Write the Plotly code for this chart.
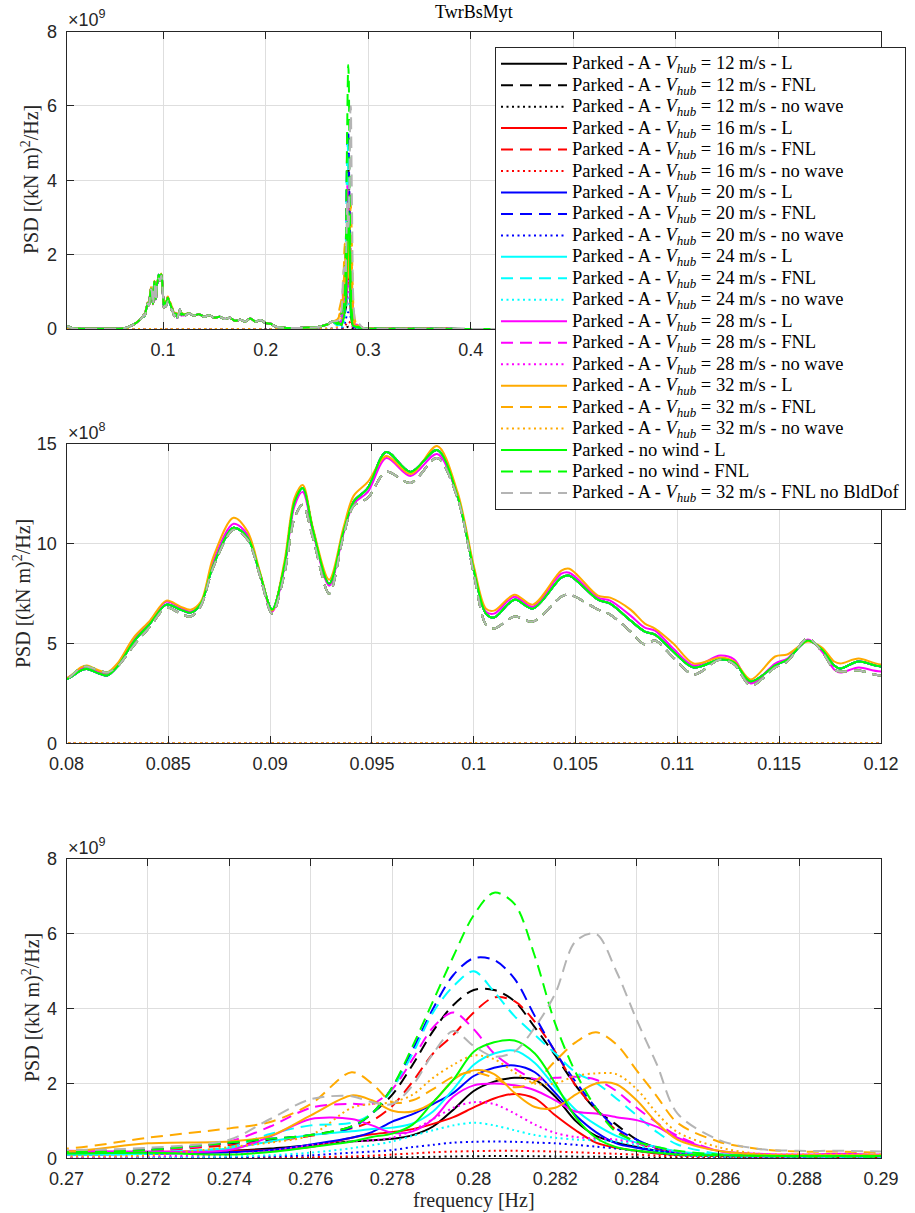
import plotly.graph_objects as go

W, H = 915, 1213

# ---------------- frequency grids [Hz] ----------------
freq_low = [0.0058, 0.008, 0.012, 0.02, 0.04, 0.055, 0.062, 0.068, 0.073, 0.077]
freq_mid = [0.0800, 0.0807, 0.0810, 0.0816, 0.0820, 0.0825, 0.0833, 0.0841, 0.0849, 0.0856,
            0.0861, 0.0866, 0.0872, 0.0882, 0.0889, 0.0895, 0.0901, 0.0907, 0.0912, 0.0916,
            0.0921, 0.0929, 0.0936, 0.0941, 0.0948, 0.0957, 0.0969, 0.0982, 0.0992, 0.1000,
            0.1006, 0.1010, 0.1020, 0.1029, 0.1043, 0.1047, 0.1061, 0.1067, 0.1077, 0.1084,
            0.1089, 0.1098, 0.1108, 0.1121, 0.1128, 0.1136, 0.1148, 0.1154, 0.1164, 0.1171,
            0.1177, 0.1180, 0.1189, 0.1200]
freq_high = [0.125, 0.13, 0.135, 0.14, 0.145, 0.15, 0.155, 0.16, 0.165, 0.17, 0.175, 0.18,
             0.185, 0.19, 0.195, 0.2, 0.205, 0.21, 0.22, 0.23, 0.24, 0.25, 0.255, 0.26, 0.265]
freq_peak = [0.270, 0.272, 0.274, 0.275, 0.276, 0.277, 0.2775, 0.278, 0.2785, 0.279, 0.2795,
             0.280, 0.2805, 0.281, 0.2815, 0.282, 0.2825, 0.283, 0.2835, 0.284, 0.2845, 0.285,
             0.286, 0.287, 0.288, 0.289, 0.290]
freq_tail = [0.295, 0.3, 0.35, 0.4, 0.5, 0.6, 0.7, 0.8]
freq_nowave = [0.0058, 0.05, 0.1, 0.15, 0.2, 0.25, 0.265]

# ---------------- wave-excited part (x1e9) ----------------
wave_low = [0.08, 0.06, 0.02, 0.01, 0.005, 0.008, 0.02, 0.08, 0.15, 0.24]
wave_high = [0.42, 0.36, 0.40, 0.33, 0.37, 0.30, 0.33, 0.27, 0.30, 0.22, 0.25, 0.20,
             0.28, 0.20, 0.24, 0.16, 0.14, 0.06, 0.03, 0.03, 0.04, 0.05, 0.08, 0.12, 0.20]
nowave_base = [0.004, 0.002, 0.002, 0.002, 0.002, 0.003, 0.004]
tail_all = [0.03, 0.015, 0.005, 0.003, 0.002, 0.001, 0.001, 0.001]

# ---------------- 0.08-0.12 Hz region (x1e8) ----------------
mid_L = [3.2, 3.65, 3.72, 3.5, 3.4, 3.85, 5.1, 6.0, 6.95, 6.7,
         6.55, 7.0, 8.9, 10.8, 10.3, 8.5, 6.7, 8.9, 12.1, 12.8,
         10.7, 8.0, 10.6, 12.1, 12.8, 14.6, 13.6, 14.7, 12.4, 8.7,
         6.5, 6.3, 7.2, 6.75, 8.3, 8.4, 7.2, 7.0, 6.15, 5.6,
         5.45, 4.6, 3.8, 4.2, 4.05, 3.1, 3.9, 4.2, 5.15, 4.7,
         3.9, 3.75, 4.1, 3.85]
mid_L28 = [3.25, 3.75, 3.85, 3.6, 3.5, 3.95, 5.25, 6.1, 7.1, 6.8,
           6.6, 7.0, 9.1, 11.0, 10.45, 8.5, 6.6, 8.8, 11.9, 12.6,
           10.6, 7.9, 10.5, 12.0, 12.6, 14.3, 13.4, 14.5, 12.4, 8.8,
           6.6, 6.5, 7.35, 6.85, 8.5, 8.55, 7.3, 7.15, 6.4, 5.8,
           5.65, 4.75, 3.9, 4.4, 4.2, 3.0, 4.0, 4.25, 5.2, 4.6,
           3.7, 3.55, 3.8, 3.6]
mid_L32 = [3.25, 3.8, 3.9, 3.65, 3.55, 4.0, 5.3, 6.15, 7.15, 6.85,
           6.7, 7.1, 9.3, 11.3, 10.6, 8.6, 6.65, 9.1, 12.3, 12.95,
           10.8, 8.2, 10.8, 12.4, 13.1, 14.4, 13.5, 14.9, 12.6, 8.9,
           6.75, 6.65, 7.45, 6.95, 8.65, 8.75, 7.4, 7.3, 6.7, 6.0,
           5.75, 5.0, 4.0, 4.3, 4.1, 3.2, 4.35, 4.45, 5.1, 4.8,
           4.1, 4.0, 4.25, 3.95]
mid_FNL = [3.2, 3.8, 3.85, 3.65, 3.55, 3.85, 4.9, 5.85, 6.8, 6.5,
           6.35, 6.9, 8.8, 10.7, 10.2, 8.4, 6.5, 8.5, 11.3, 11.95,
           10.3, 7.5, 10.4, 11.9, 12.3, 13.6, 13.05, 14.3, 12.3, 8.5,
           5.95, 5.75, 6.35, 6.1, 7.35, 7.45, 6.7, 6.45, 5.6, 4.95,
           5.15, 4.3, 3.45, 4.2, 3.95, 2.9, 3.8, 4.1, 5.25, 4.6,
           3.7, 3.6, 3.65, 3.4]

# ---------------- 0.27-0.29 Hz region, per case (x1e9) ----------------
peak_12_L = [0.12, 0.14, 0.2, 0.26, 0.35, 0.45, 0.48, 0.52, 0.62, 0.85, 1.3, 1.8, 2.05, 2.15,
             2.1, 1.65, 1.0, 0.6, 0.42, 0.3, 0.2, 0.13, 0.08, 0.06, 0.05, 0.05, 0.05]
peak_12_FNL = [0.17, 0.22, 0.4, 0.5, 0.62, 0.85, 1.2, 1.7, 2.5, 3.4, 4.1, 4.5, 4.5, 4.2,
               3.5, 2.75, 1.95, 1.3, 0.9, 0.5, 0.28, 0.15, 0.06, 0.04, 0.03, 0.03, 0.03]
peak_12_NW = [0.002, 0.002, 0.004, 0.006, 0.01, 0.015, 0.02, 0.025, 0.03, 0.04, 0.05, 0.055,
              0.06, 0.058, 0.055, 0.05, 0.045, 0.04, 0.035, 0.025, 0.02, 0.015, 0.008, 0.005,
              0.004, 0.004, 0.004]
peak_16_L = [0.13, 0.17, 0.2, 0.22, 0.3, 0.55, 0.64, 0.7, 0.78, 0.92, 1.1, 1.36, 1.6, 1.72,
             1.6, 1.15, 0.75, 0.42, 0.28, 0.2, 0.13, 0.09, 0.06, 0.05, 0.04, 0.04, 0.04]
peak_16_FNL = [0.12, 0.2, 0.35, 0.45, 0.6, 0.8, 1.0, 1.4, 2.05, 2.8, 3.3, 3.9, 4.3, 4.2,
               3.65, 2.85, 1.95, 1.3, 0.75, 0.42, 0.25, 0.14, 0.06, 0.04, 0.03, 0.03, 0.03]
peak_16_NW = [0.005, 0.006, 0.01, 0.02, 0.03, 0.05, 0.07, 0.1, 0.13, 0.16, 0.18, 0.19, 0.2,
              0.2, 0.19, 0.18, 0.16, 0.14, 0.12, 0.1, 0.07, 0.05, 0.02, 0.01, 0.01, 0.01, 0.01]
peak_20_L = [0.1, 0.12, 0.16, 0.22, 0.37, 0.55, 0.7, 0.98, 1.18, 1.45, 1.75, 2.2, 2.42, 2.48,
             2.3, 1.75, 1.15, 0.7, 0.4, 0.28, 0.2, 0.14, 0.1, 0.08, 0.07, 0.06, 0.06]
peak_20_FNL = [0.15, 0.22, 0.42, 0.52, 0.62, 0.82, 1.2, 1.9, 2.9, 4.0, 4.9, 5.35, 5.3, 4.8,
               3.8, 2.85, 2.05, 1.35, 0.8, 0.5, 0.28, 0.18, 0.08, 0.05, 0.04, 0.03, 0.03]
peak_20_NW = [0.01, 0.02, 0.03, 0.05, 0.08, 0.15, 0.18, 0.22, 0.3, 0.36, 0.42, 0.44, 0.45,
              0.44, 0.42, 0.4, 0.36, 0.31, 0.26, 0.2, 0.14, 0.08, 0.04, 0.02, 0.02, 0.02, 0.02]
peak_24_L = [0.1, 0.12, 0.27, 0.45, 0.62, 0.72, 0.78, 0.82, 0.93, 1.25, 1.85, 2.5, 2.8, 2.88,
             2.55, 1.9, 1.3, 0.9, 0.6, 0.42, 0.3, 0.18, 0.1, 0.07, 0.06, 0.06, 0.06]
peak_24_FNL = [0.12, 0.16, 0.3, 0.65, 0.88, 0.95, 1.2, 1.85, 2.8, 3.9, 4.6, 5.0, 4.45, 3.8,
               3.3, 2.8, 2.3, 2.02, 1.6, 1.15, 0.7, 0.37, 0.12, 0.06, 0.05, 0.04, 0.04]
peak_24_NW = [0.02, 0.03, 0.05, 0.08, 0.15, 0.27, 0.35, 0.45, 0.6, 0.75, 0.88, 0.95, 0.88,
              0.75, 0.62, 0.55, 0.5, 0.48, 0.45, 0.35, 0.2, 0.1, 0.05, 0.03, 0.03, 0.03, 0.03]
peak_28_L = [0.2, 0.18, 0.22, 0.58, 1.05, 1.05, 0.88, 0.68, 0.72, 1.05, 1.65, 1.95, 2.0, 1.95,
             1.82, 1.55, 1.25, 1.2, 1.1, 1.02, 0.84, 0.55, 0.2, 0.12, 0.1, 0.12, 0.1]
peak_28_FNL = [0.2, 0.21, 0.45, 0.85, 1.35, 1.46, 1.45, 1.85, 2.65, 3.5, 3.9, 3.45, 2.8, 2.4,
               2.12, 2.15, 2.18, 2.1, 1.8, 1.35, 0.95, 0.6, 0.2, 0.1, 0.08, 0.07, 0.07]
peak_28_NW = [0.03, 0.05, 0.1, 0.2, 0.35, 0.45, 0.48, 0.55, 0.75, 1.05, 1.35, 1.5, 1.45, 1.2,
              0.9, 0.68, 0.57, 0.53, 0.5, 0.4, 0.28, 0.15, 0.08, 0.05, 0.05, 0.05, 0.05]
peak_32_L = [0.18, 0.4, 0.45, 0.6, 1.15, 1.68, 1.55, 1.27, 1.25, 1.5, 2.1, 2.35, 2.25, 1.75,
             1.37, 1.35, 1.7, 2.0, 1.98, 1.55, 0.95, 0.5, 0.2, 0.1, 0.08, 0.08, 0.08]
peak_32_FNL = [0.26, 0.55, 0.8, 0.97, 1.45, 2.3, 2.0, 1.5, 1.55, 1.85, 2.18, 2.3, 2.15, 1.9,
               2.05, 2.6, 3.1, 3.37, 3.05, 2.35, 1.65, 0.95, 0.45, 0.25, 0.18, 0.18, 0.15]
peak_32_NW = [0.05, 0.08, 0.3, 0.42, 0.62, 1.35, 1.45, 1.5, 1.7, 2.15, 2.5, 2.75, 2.65, 2.3,
              2.0, 2.0, 2.2, 2.27, 2.25, 1.85, 1.2, 0.7, 0.3, 0.12, 0.1, 0.1, 0.1]
peak_nowind_L = [0.13, 0.15, 0.1, 0.17, 0.3, 0.45, 0.57, 0.66, 0.9, 1.5, 2.1, 2.85, 3.1, 3.15,
                 2.8, 2.0, 1.1, 0.55, 0.3, 0.2, 0.15, 0.1, 0.08, 0.07, 0.06, 0.06, 0.06]
peak_nowind_FNL = [0.17, 0.22, 0.42, 0.52, 0.62, 0.85, 1.2, 1.9, 3.0, 4.2, 5.4, 6.5, 7.1, 6.8,
                   5.4, 3.6, 2.3, 1.35, 0.7, 0.45, 0.3, 0.2, 0.1, 0.06, 0.05, 0.05, 0.04]
peak_32_FNL_noBld = [0.22, 0.28, 0.5, 1.05, 1.58, 1.66, 1.5, 1.45, 1.95, 2.8, 3.4, 3.0, 2.72,
                     2.85, 3.5, 4.4, 5.8, 6.0, 5.0, 3.7, 2.5, 1.2, 0.5, 0.25, 0.2, 0.2, 0.18]

# ---------------- case definitions ----------------
speeds = [12, 16, 20, 24, 28, 32]
speed_colors = ['#000000', '#FF0000', '#0000FF', '#00FFFF', '#FF00FF', '#FFAA00']
green = '#00FF00'
gray = '#B4B4B4'
peaks = {
    (12, 'L'): peak_12_L, (12, 'FNL'): peak_12_FNL, (12, 'no wave'): peak_12_NW,
    (16, 'L'): peak_16_L, (16, 'FNL'): peak_16_FNL, (16, 'no wave'): peak_16_NW,
    (20, 'L'): peak_20_L, (20, 'FNL'): peak_20_FNL, (20, 'no wave'): peak_20_NW,
    (24, 'L'): peak_24_L, (24, 'FNL'): peak_24_FNL, (24, 'no wave'): peak_24_NW,
    (28, 'L'): peak_28_L, (28, 'FNL'): peak_28_FNL, (28, 'no wave'): peak_28_NW,
    (32, 'L'): peak_32_L, (32, 'FNL'): peak_32_FNL, (32, 'no wave'): peak_32_NW,
}
mids_L = {12: mid_L, 16: mid_L, 20: mid_L, 24: mid_L, 28: mid_L28, 32: mid_L32}

DASH = {'L': 'solid', 'FNL': '12px,7px', 'no wave': '2px,3.5px'}

VHUB = '<i>V</i><sub><i>hub</i></sub>'


def lab(txt):
    return '<span style="font-size:18.5px">' + txt + '</span>'


cases = []
for s, c in zip(speeds, speed_colors):
    for kind in ['L', 'FNL', 'no wave']:
        mid = None if kind == 'no wave' else (mids_L[s] if kind == 'L' else mid_FNL)
        cases.append(dict(name=lab(f'Parked - A - {VHUB} = {s} m/s - {kind}'),
                          color=c, dash=DASH[kind], peak=peaks[(s, kind)], mid=mid))
cases.append(dict(name=lab('Parked - no wind - L'), color=green, dash=DASH['L'],
                  peak=peak_nowind_L, mid=mid_L))
cases.append(dict(name=lab('Parked - no wind - FNL'), color=green, dash=DASH['FNL'],
                  peak=peak_nowind_FNL, mid=mid_FNL))
cases.append(dict(name=lab(f'Parked - A - {VHUB} = 32 m/s - FNL no BldDof'), color=gray,
                  dash=DASH['FNL'], peak=peak_32_FNL_noBld, mid=mid_FNL))


def build(case):
    if case['mid'] is None:
        x = freq_nowave + freq_peak + freq_tail
        y = [v * 1e9 for v in nowave_base + case['peak'] + tail_all]
    else:
        x = freq_low + freq_mid + freq_high + freq_peak + freq_tail
        y = ([v * 1e9 for v in wave_low] + [v * 1e8 for v in case['mid']] +
             [v * 1e9 for v in wave_high + case['peak'] + tail_all])
    return x, y


fig = go.Figure()
for ax_i, (xa, ya) in enumerate([('x', 'y'), ('x2', 'y2'), ('x3', 'y3')]):
    for case in cases:
        x, y = build(case)
        fig.add_trace(go.Scatter(
            x=x, y=y, mode='lines', name=case['name'],
            line=dict(color=case['color'], width=2, dash=case['dash'], shape='spline', smoothing=0.9),
            xaxis=xa, yaxis=ya, showlegend=(ax_i == 0), hoverinfo='skip'))

# ---------------- axes ----------------
AX = '#262626'
sans = 'Liberation Sans, Arial, sans-serif'
serif = 'Liberation Serif, Times New Roman, serif'
tickfont = dict(family=sans, size=18, color=AX)


def PX(x):
    return x / W


def PY(y):
    return 1 - y / H


def ax_common():
    return dict(showline=True, linecolor=AX, linewidth=1, mirror='ticks', ticks='inside',
                ticklen=7, tickwidth=1, tickcolor=AX, showgrid=True, gridcolor='#DEDEDE',
                gridwidth=1, zeroline=False, tickfont=tickfont, automargin=False)


xdom = [PX(66.5), PX(881)]


def ydom(top, bot):
    return [PY(bot), PY(top)]


top_xt = [0.1, 0.2, 0.3, 0.4, 0.5, 0.6, 0.7, 0.8]
top_xl = ['0.1', '0.2', '0.3', '0.4', '', '', '', '']   # 0.5-0.8 sit under the legend box
mid_xt = [0.08, 0.085, 0.09, 0.095, 0.1, 0.105, 0.11, 0.115, 0.12]
mid_xl = ['0.08', '0.085', '0.09', '0.095', '0.1', '0.105', '0.11', '0.115', '0.12']
bot_xt = [0.27, 0.272, 0.274, 0.276, 0.278, 0.28, 0.282, 0.284, 0.286, 0.288, 0.29]
bot_xl = ['0.27', '0.272', '0.274', '0.276', '0.278', '0.28', '0.282', '0.284', '0.286', '0.288', '0.29']
y9_t = [0, 2e9, 4e9, 6e9, 8e9]
y9_l = ['0', '2', '4', '6', '8']
y8_t = [0, 5e8, 10e8, 15e8]
y8_l = ['0', '5', '10', '15']

fig.update_layout(
    xaxis=dict(ax_common(), domain=xdom, range=[0.0058, 0.8], tickvals=top_xt,
               ticktext=top_xl, anchor='y', ticklabelstandoff=4),
    yaxis=dict(ax_common(), domain=ydom(31.5, 329), range=[0, 8e9], tickvals=y9_t,
               ticktext=y9_l, anchor='x', ticklabelstandoff=5),
    xaxis2=dict(ax_common(), domain=xdom, range=[0.08, 0.12], tickvals=mid_xt,
                ticktext=mid_xl, anchor='y2', ticklabelstandoff=4),
    yaxis2=dict(ax_common(), domain=ydom(444, 743.3), range=[0, 15e8], tickvals=y8_t,
                ticktext=y8_l, anchor='x2', ticklabelstandoff=5),
    xaxis3=dict(ax_common(), domain=xdom, range=[0.27, 0.29], tickvals=bot_xt,
                ticktext=bot_xl, anchor='y3', ticklabelstandoff=4),
    yaxis3=dict(ax_common(), domain=ydom(859, 1158.3), range=[0, 8e9], tickvals=y9_t,
                ticktext=y9_l, anchor='x3', ticklabelstandoff=5),
)

ann = []


def px_ann(text, x, y, size, xanchor='center', yanchor='middle', angle=0, family=serif, color='black'):
    ann.append(dict(text=text, x=PX(x), y=PY(y), xref='paper', yref='paper',
                    xanchor=xanchor, yanchor=yanchor, showarrow=False, textangle=angle,
                    font=dict(family=family, size=size, color=color)))


ylab = 'PSD [(kN m)<sup>2</sup>/Hz]'
px_ann('TwrBsMyt', 473.7, 12, 18)
px_ann(ylab, 31, 180, 20, angle=-90, color=AX)
px_ann(ylab, 22, 594, 20, angle=-90, color=AX)
px_ann(ylab, 31, 1008, 20, angle=-90, color=AX)
px_ann('frequency [Hz]', 473.7, 1200, 20, color=AX)
px_ann('×10<sup>9</sup>', 66, 32, 18, xanchor='left', yanchor='bottom', family=sans, color=AX)
px_ann('×10<sup>8</sup>', 66, 445, 18, xanchor='left', yanchor='bottom', family=sans, color=AX)
px_ann('×10<sup>9</sup>', 66, 860, 18, xanchor='left', yanchor='bottom', family=sans, color=AX)

fig.update_layout(
    width=W, height=H, template='none',
    margin=dict(l=0, r=0, t=0, b=0, autoexpand=False),
    paper_bgcolor='white', plot_bgcolor='white',
    annotations=ann,
    showlegend=True,
    legend=dict(x=PX(495), y=PY(47), xanchor='left', yanchor='top', xref='paper', yref='paper',
                bgcolor='white', bordercolor=AX, borderwidth=1,
                font=dict(family=serif, size=14.2, color='black'),
                itemwidth=66, tracegroupgap=0, itemclick=False, itemdoubleclick=False),
)

# the page body has a default 8px margin; remove it so the figure fills the window
fig.write_html('out.html', config={'displayModeBar': False},
               post_script="document.body.style.margin='0px';")
